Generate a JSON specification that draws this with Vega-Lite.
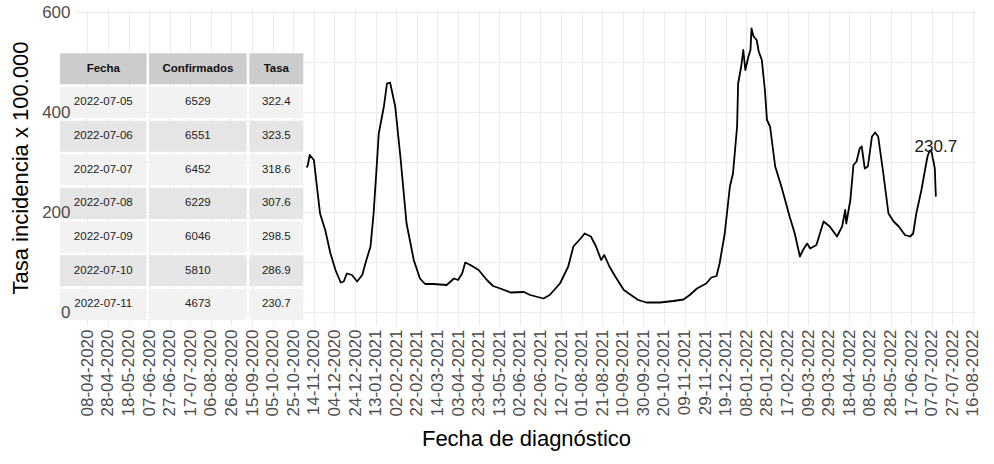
{
  "$schema": "https://vega.github.io/schema/vega-lite/v6.json",
  "width": 900,
  "height": 315,
  "autosize": {"type": "none"},
  "padding": {"left": 76, "top": 10, "right": 18, "bottom": 139},
  "background": "white",
  "config": {
    "font": "Liberation Sans",
    "view": {"stroke": null}
  },
  "datasets": {
    "serie": [
      {"fecha": "2020-11-07", "tasa": 289},
      {"fecha": "2020-11-08", "tasa": 293},
      {"fecha": "2020-11-10", "tasa": 314},
      {"fecha": "2020-11-14", "tasa": 304},
      {"fecha": "2020-11-20", "tasa": 197},
      {"fecha": "2020-11-25", "tasa": 164},
      {"fecha": "2020-11-30", "tasa": 118},
      {"fecha": "2020-12-05", "tasa": 84},
      {"fecha": "2020-12-10", "tasa": 59},
      {"fecha": "2020-12-13", "tasa": 61},
      {"fecha": "2020-12-16", "tasa": 77},
      {"fecha": "2020-12-21", "tasa": 74},
      {"fecha": "2020-12-26", "tasa": 61},
      {"fecha": "2020-12-31", "tasa": 74},
      {"fecha": "2021-01-04", "tasa": 104},
      {"fecha": "2021-01-08", "tasa": 131},
      {"fecha": "2021-01-11", "tasa": 197},
      {"fecha": "2021-01-14", "tasa": 291},
      {"fecha": "2021-01-16", "tasa": 357},
      {"fecha": "2021-01-21", "tasa": 411},
      {"fecha": "2021-01-24", "tasa": 457},
      {"fecha": "2021-01-27", "tasa": 459},
      {"fecha": "2021-02-01", "tasa": 411},
      {"fecha": "2021-02-06", "tasa": 311},
      {"fecha": "2021-02-12", "tasa": 177},
      {"fecha": "2021-02-19", "tasa": 104},
      {"fecha": "2021-02-25", "tasa": 67},
      {"fecha": "2021-03-02", "tasa": 56},
      {"fecha": "2021-03-10", "tasa": 56},
      {"fecha": "2021-03-23", "tasa": 54},
      {"fecha": "2021-03-30", "tasa": 67},
      {"fecha": "2021-04-03", "tasa": 64},
      {"fecha": "2021-04-07", "tasa": 77},
      {"fecha": "2021-04-10", "tasa": 99},
      {"fecha": "2021-04-15", "tasa": 94},
      {"fecha": "2021-04-23", "tasa": 84},
      {"fecha": "2021-05-01", "tasa": 64},
      {"fecha": "2021-05-07", "tasa": 52},
      {"fecha": "2021-05-14", "tasa": 47},
      {"fecha": "2021-05-24", "tasa": 39},
      {"fecha": "2021-06-06", "tasa": 40},
      {"fecha": "2021-06-12", "tasa": 34},
      {"fecha": "2021-06-25", "tasa": 27},
      {"fecha": "2021-07-01", "tasa": 34},
      {"fecha": "2021-07-11", "tasa": 57},
      {"fecha": "2021-07-19", "tasa": 91},
      {"fecha": "2021-07-24", "tasa": 131},
      {"fecha": "2021-07-31", "tasa": 147},
      {"fecha": "2021-08-04", "tasa": 157},
      {"fecha": "2021-08-10", "tasa": 151},
      {"fecha": "2021-08-15", "tasa": 131},
      {"fecha": "2021-08-20", "tasa": 104},
      {"fecha": "2021-08-23", "tasa": 114},
      {"fecha": "2021-08-28", "tasa": 91},
      {"fecha": "2021-09-03", "tasa": 70},
      {"fecha": "2021-09-11", "tasa": 44},
      {"fecha": "2021-09-20", "tasa": 31},
      {"fecha": "2021-09-25", "tasa": 24},
      {"fecha": "2021-10-03", "tasa": 19},
      {"fecha": "2021-10-16", "tasa": 19},
      {"fecha": "2021-10-29", "tasa": 22},
      {"fecha": "2021-11-08", "tasa": 25},
      {"fecha": "2021-11-14", "tasa": 34},
      {"fecha": "2021-11-21", "tasa": 47},
      {"fecha": "2021-11-30", "tasa": 57},
      {"fecha": "2021-12-05", "tasa": 69},
      {"fecha": "2021-12-10", "tasa": 72},
      {"fecha": "2021-12-13", "tasa": 97},
      {"fecha": "2021-12-18", "tasa": 157},
      {"fecha": "2021-12-23", "tasa": 251},
      {"fecha": "2021-12-26", "tasa": 277},
      {"fecha": "2021-12-30", "tasa": 371},
      {"fecha": "2021-12-31", "tasa": 457},
      {"fecha": "2022-01-03", "tasa": 491},
      {"fecha": "2022-01-05", "tasa": 524},
      {"fecha": "2022-01-07", "tasa": 484},
      {"fecha": "2022-01-10", "tasa": 511},
      {"fecha": "2022-01-12", "tasa": 524},
      {"fecha": "2022-01-13", "tasa": 567},
      {"fecha": "2022-01-15", "tasa": 551},
      {"fecha": "2022-01-18", "tasa": 544},
      {"fecha": "2022-01-20", "tasa": 521},
      {"fecha": "2022-01-23", "tasa": 504},
      {"fecha": "2022-01-26", "tasa": 444},
      {"fecha": "2022-01-28", "tasa": 384},
      {"fecha": "2022-01-31", "tasa": 371},
      {"fecha": "2022-02-05", "tasa": 291},
      {"fecha": "2022-02-11", "tasa": 251},
      {"fecha": "2022-02-19", "tasa": 191},
      {"fecha": "2022-02-24", "tasa": 157},
      {"fecha": "2022-03-01", "tasa": 111},
      {"fecha": "2022-03-04", "tasa": 124},
      {"fecha": "2022-03-08", "tasa": 137},
      {"fecha": "2022-03-11", "tasa": 127},
      {"fecha": "2022-03-17", "tasa": 134},
      {"fecha": "2022-03-24", "tasa": 181},
      {"fecha": "2022-03-30", "tasa": 171},
      {"fecha": "2022-04-06", "tasa": 151},
      {"fecha": "2022-04-11", "tasa": 171},
      {"fecha": "2022-04-14", "tasa": 204},
      {"fecha": "2022-04-15", "tasa": 177},
      {"fecha": "2022-04-19", "tasa": 224},
      {"fecha": "2022-04-22", "tasa": 294},
      {"fecha": "2022-04-25", "tasa": 301},
      {"fecha": "2022-04-28", "tasa": 327},
      {"fecha": "2022-04-30", "tasa": 331},
      {"fecha": "2022-05-03", "tasa": 287},
      {"fecha": "2022-05-06", "tasa": 291},
      {"fecha": "2022-05-10", "tasa": 351},
      {"fecha": "2022-05-13", "tasa": 359},
      {"fecha": "2022-05-16", "tasa": 351},
      {"fecha": "2022-05-21", "tasa": 277},
      {"fecha": "2022-05-26", "tasa": 197},
      {"fecha": "2022-05-31", "tasa": 181},
      {"fecha": "2022-06-05", "tasa": 171},
      {"fecha": "2022-06-11", "tasa": 154},
      {"fecha": "2022-06-16", "tasa": 151},
      {"fecha": "2022-06-19", "tasa": 157},
      {"fecha": "2022-06-22", "tasa": 197},
      {"fecha": "2022-06-27", "tasa": 244},
      {"fecha": "2022-07-01", "tasa": 290},
      {"fecha": "2022-07-03", "tasa": 312},
      {"fecha": "2022-07-05", "tasa": 322.4},
      {"fecha": "2022-07-06", "tasa": 323.5},
      {"fecha": "2022-07-07", "tasa": 318.6},
      {"fecha": "2022-07-08", "tasa": 307.6},
      {"fecha": "2022-07-09", "tasa": 298.5},
      {"fecha": "2022-07-10", "tasa": 286.9},
      {"fecha": "2022-07-11", "tasa": 230.7}
    ],
    "tabla": [
      {"Fecha": "2022-07-05", "Confirmados": 6529, "Tasa": 322.4},
      {"Fecha": "2022-07-06", "Confirmados": 6551, "Tasa": 323.5},
      {"Fecha": "2022-07-07", "Confirmados": 6452, "Tasa": 318.6},
      {"Fecha": "2022-07-08", "Confirmados": 6229, "Tasa": 307.6},
      {"Fecha": "2022-07-09", "Confirmados": 6046, "Tasa": 298.5},
      {"Fecha": "2022-07-10", "Confirmados": 5810, "Tasa": 286.9},
      {"Fecha": "2022-07-11", "Confirmados": 4673, "Tasa": 230.7}
    ]
  },
  "layer": [
    {
      "layer": [
        {
          "data": {"name": "serie"},
          "mark": {"type": "line", "color": "#000000", "strokeWidth": 1.8, "strokeJoin": "round"},
          "encoding": {
            "x": {
              "field": "fecha",
              "type": "temporal",
              "title": "Fecha de diagnóstico",
              "scale": {
                "type": "utc",
                "domain": [
                  {"year": 2020, "month": 3, "date": 28, "utc": true},
                  {"year": 2022, "month": 8, "date": 19, "utc": true}
                ],
                "nice": false
              },
              "axis": {
                "values": [
                  {"year": 2020, "month": 4, "date": 8, "utc": true},
                  {"year": 2020, "month": 4, "date": 28, "utc": true},
                  {"year": 2020, "month": 5, "date": 18, "utc": true},
                  {"year": 2020, "month": 6, "date": 7, "utc": true},
                  {"year": 2020, "month": 6, "date": 27, "utc": true},
                  {"year": 2020, "month": 7, "date": 17, "utc": true},
                  {"year": 2020, "month": 8, "date": 6, "utc": true},
                  {"year": 2020, "month": 8, "date": 26, "utc": true},
                  {"year": 2020, "month": 9, "date": 15, "utc": true},
                  {"year": 2020, "month": 10, "date": 5, "utc": true},
                  {"year": 2020, "month": 10, "date": 25, "utc": true},
                  {"year": 2020, "month": 11, "date": 14, "utc": true},
                  {"year": 2020, "month": 12, "date": 4, "utc": true},
                  {"year": 2020, "month": 12, "date": 24, "utc": true},
                  {"year": 2021, "month": 1, "date": 13, "utc": true},
                  {"year": 2021, "month": 2, "date": 2, "utc": true},
                  {"year": 2021, "month": 2, "date": 22, "utc": true},
                  {"year": 2021, "month": 3, "date": 14, "utc": true},
                  {"year": 2021, "month": 4, "date": 3, "utc": true},
                  {"year": 2021, "month": 4, "date": 23, "utc": true},
                  {"year": 2021, "month": 5, "date": 13, "utc": true},
                  {"year": 2021, "month": 6, "date": 2, "utc": true},
                  {"year": 2021, "month": 6, "date": 22, "utc": true},
                  {"year": 2021, "month": 7, "date": 12, "utc": true},
                  {"year": 2021, "month": 8, "date": 1, "utc": true},
                  {"year": 2021, "month": 8, "date": 21, "utc": true},
                  {"year": 2021, "month": 9, "date": 10, "utc": true},
                  {"year": 2021, "month": 9, "date": 30, "utc": true},
                  {"year": 2021, "month": 10, "date": 20, "utc": true},
                  {"year": 2021, "month": 11, "date": 9, "utc": true},
                  {"year": 2021, "month": 11, "date": 29, "utc": true},
                  {"year": 2021, "month": 12, "date": 19, "utc": true},
                  {"year": 2022, "month": 1, "date": 8, "utc": true},
                  {"year": 2022, "month": 1, "date": 28, "utc": true},
                  {"year": 2022, "month": 2, "date": 17, "utc": true},
                  {"year": 2022, "month": 3, "date": 9, "utc": true},
                  {"year": 2022, "month": 3, "date": 29, "utc": true},
                  {"year": 2022, "month": 4, "date": 18, "utc": true},
                  {"year": 2022, "month": 5, "date": 8, "utc": true},
                  {"year": 2022, "month": 5, "date": 28, "utc": true},
                  {"year": 2022, "month": 6, "date": 17, "utc": true},
                  {"year": 2022, "month": 7, "date": 7, "utc": true},
                  {"year": 2022, "month": 7, "date": 27, "utc": true},
                  {"year": 2022, "month": 8, "date": 16, "utc": true}
                ],
                "tickCount": 100,
                "format": "%d-%m-%Y",
                "labelAngle": 270,
                "labelFontSize": 17,
                "labelColor": "#4d4d4d",
                "labelPadding": 4,
                "labelOverlap": false,
                "labelFlush": false,
                "ticks": false,
                "domain": false,
                "grid": true,
                "gridColor": "#ebebeb",
                "gridWidth": 1,
                "titleFontSize": 22,
                "titleFontWeight": "normal",
                "titleColor": "#000000",
                "titlePadding": 13
              }
            },
            "y": {
              "field": "tasa",
              "type": "quantitative",
              "title": "Tasa incidencia x 100.000",
              "scale": {"domain": [-26, 604], "nice": false, "zero": false},
              "axis": {
                "values": [0, 100, 200, 300, 400, 500, 600],
                "tickCount": 20,
                "labels": false,
                "title": null,
                "ticks": false,
                "domain": false,
                "grid": true,
                "gridColor": "#ebebeb",
                "gridWidth": 1,
                "zindex": 0
              }
            }
          }
        },
        {
          "data": {"name": "tabla"},
          "transform": [
            {"joinaggregate": [{"op": "max", "field": "Tasa", "as": "tasa_max"}]},
            {"filter": "datum.Fecha === '2022-07-11'"},
            {"calculate": "toDate(datum.Fecha)", "as": "fecha_ultima"}
          ],
          "mark": {"type": "text", "fontSize": 17, "color": "#1a1a1a", "dy": -3, "align": "center", "baseline": "middle"},
          "encoding": {
            "x": {"field": "fecha_ultima", "type": "temporal", "title": "Fecha de diagnóstico"},
            "y": {
              "field": "tasa_max",
              "type": "quantitative",
              "title": "Tasa incidencia x 100.000",
              "axis": {
                "orient": "left",
                "values": [0, 200, 400, 600],
                "tickCount": 20,
                "labelOverlap": false,
                "labelBound": false,
                "labelFlush": false,
                "labelFontSize": 17,
                "labelColor": "#4d4d4d",
                "labelPadding": 6,
                "ticks": false,
                "domain": false,
                "grid": false,
                "titleFontSize": 22,
                "titleFontWeight": "normal",
                "titleColor": "#000000",
                "titlePadding": 9,
                "zindex": 1
              }
            },
            "text": {"field": "Tasa", "type": "nominal"}
          }
        }
      ],
      "resolve": {"axis": {"y": "independent"}}
    },
    {
      "data": {"name": "tabla"},
      "transform": [
        {"window": [{"op": "row_number", "as": "fila"}]},
        {"fold": ["Fecha", "Confirmados", "Tasa"], "as": ["columna_nombre", "valor"]},
        {"calculate": "indexof(['Fecha', 'Confirmados', 'Tasa'], datum.columna_nombre)", "as": "columna"},
        {"calculate": "datum.columna + 1", "as": "col_fin"},
        {"calculate": "datum.columna + 0.5", "as": "col_centro"},
        {"calculate": "datum.fila + 1", "as": "fila_fin"},
        {"calculate": "datum.fila + 0.5", "as": "fila_centro"}
      ],
      "layer": [
        {
          "mark": {"type": "rect", "xOffset": 1.3, "x2Offset": -1.3, "yOffset": 1.3, "y2Offset": -1.3},
          "encoding": {
            "x": {"field": "columna", "type": "quantitative", "axis": null,
                  "scale": {"domain": [0, 1, 2, 3], "range": [-17.3, 71.8, 172, 228.6], "nice": false, "zero": false}},
            "x2": {"field": "col_fin"},
            "y": {"field": "fila", "type": "quantitative", "axis": null,
                  "scale": {"domain": [0, 8], "range": [42, 311.3], "nice": false, "zero": false}},
            "y2": {"field": "fila_fin"},
            "fill": {"condition": {"test": "datum.fila % 2 === 0", "value": "#e5e5e5"}, "value": "#f2f2f2"}
          }
        },
        {
          "mark": {"type": "text", "fontSize": 11.5, "color": "#222222", "align": "center", "baseline": "middle"},
          "encoding": {
            "x": {"field": "col_centro", "type": "quantitative", "axis": null},
            "y": {"field": "fila_centro", "type": "quantitative", "axis": null},
            "text": {"field": "valor", "type": "nominal"}
          }
        },
        {
          "transform": [
            {"filter": "datum.fila === 1"},
            {"calculate": "0", "as": "fila"},
            {"calculate": "1", "as": "fila_fin"},
            {"calculate": "0.5", "as": "fila_centro"}
          ],
          "layer": [
            {
              "mark": {"type": "rect", "fill": "#cccccc", "xOffset": 1.3, "x2Offset": -1.3, "yOffset": 1.3, "y2Offset": -1.3},
              "encoding": {
                "x": {"field": "columna", "type": "quantitative", "axis": null},
                "x2": {"field": "col_fin"},
                "y": {"field": "fila", "type": "quantitative", "axis": null},
                "y2": {"field": "fila_fin"}
              }
            },
            {
              "mark": {"type": "text", "fontSize": 11.5, "fontWeight": "bold", "color": "#111111", "align": "center", "baseline": "middle"},
              "encoding": {
                "x": {"field": "col_centro", "type": "quantitative", "axis": null},
                "y": {"field": "fila_centro", "type": "quantitative", "axis": null},
                "text": {"field": "columna_nombre", "type": "nominal"}
              }
            }
          ]
        }
      ]
    }
  ],
  "resolve": {"scale": {"x": "independent", "y": "independent"}}
}
